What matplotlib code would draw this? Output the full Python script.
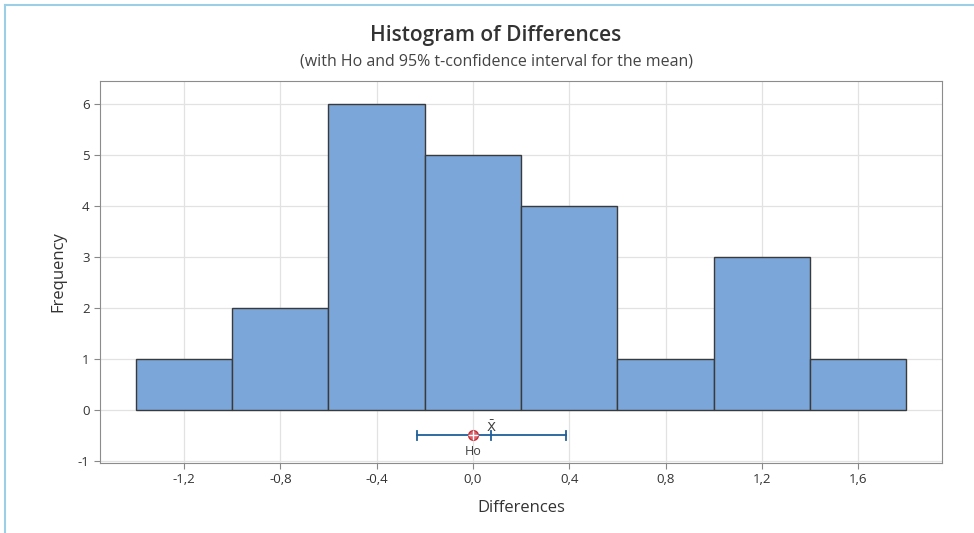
import matplotlib
matplotlib.use('Agg')
import numpy as np
import matplotlib.pyplot as plt
from matplotlib.lines import Line2D

bin_edges = [-1.4, -1.0, -0.6, -0.2, 0.2, 0.6, 1.0, 1.4, 1.8]
counts = [1, 2, 6, 5, 4, 1, 3, 1]
h0 = 0.0
mean_diff = 0.075
ci_low, ci_high = -0.233, 0.386
x_ticks = [-1.2, -0.8, -0.4, 0.0, 0.4, 0.8, 1.2, 1.6]
x_tick_labels = ['-1,2', '-0,8', '-0,4', '0,0', '0,4', '0,8', '1,2', '1,6']
y_ticks = [-1, 0, 1, 2, 3, 4, 5, 6]

plt.rcParams['font.family'] = ['Open Sans', 'DejaVu Sans']
plt.rcParams['axes.unicode_minus'] = False

fig = plt.figure(figsize=(9.74, 5.33), dpi=100)
ax = fig.add_axes([100 / 974, 1 - 463 / 533, 842 / 974, 382 / 533])

widths = np.diff(bin_edges)
ax.bar(bin_edges[:-1], counts, width=widths, align='edge', color='#7BA6D9',
       edgecolor='#3A3A3A', linewidth=1.0, zorder=3)

# confidence interval
ax.plot([ci_low, ci_high], [-0.5, -0.5], color='#1F5F9A', linewidth=1.3, zorder=4)
for xv in (ci_low, ci_high, mean_diff):
    ax.plot([xv, xv], [-0.42, -0.58], color='#1F5F9A', linewidth=1.3, zorder=4)
ax.plot(h0, -0.5, 'o', markersize=7, markerfacecolor='#E0606A', markeredgecolor='#C0303A', zorder=5)
ax.plot(h0, -0.5, '+', markersize=7, color='white', markeredgewidth=1.0, zorder=6)
ax.text(mean_diff, -0.33, r'$\bar{\mathrm{X}}$', ha='center', va='center', fontsize=9.5, color='#404040')
ax.text(h0, -0.82, 'Ho', ha='center', va='center', fontsize=9, color='#404040')

ax.set_xlim(-1.549, 1.948)
ax.set_ylim(-1.04, 6.45)
ax.set_xticks(x_ticks)
ax.set_xticklabels(x_tick_labels)
ax.set_yticks(y_ticks)
ax.tick_params(labelsize=9.5, colors='#333333', length=4, color='#888888')
ax.grid(color='#E2E2E2', linewidth=0.9, zorder=0)
ax.set_axisbelow(True)
for sp in ax.spines.values():
    sp.set_color('#8C8C8C')
ax.set_xlabel('Differences', fontsize=12, color='#333333', labelpad=10)
ax.set_ylabel('Frequency', fontsize=12, color='#333333', labelpad=8)

fig.text(496 / 974, 1 - 35 / 533, 'Histogram of Differences', ha='center', va='center',
         fontsize=15, fontweight='semibold', color='#333333')
fig.text(496 / 974, 1 - 61 / 533, '(with Ho and 95% t-confidence interval for the mean)',
         ha='center', va='center', fontsize=11.5, color='#444444')

# outer frame lines
fig.add_artist(Line2D([5 / 974, 1], [1 - 5 / 533, 1 - 5 / 533], color='#9CCFE6', linewidth=1.5))
fig.add_artist(Line2D([5 / 974, 5 / 974], [0, 1 - 5 / 533], color='#9CCFE6', linewidth=1.5))

fig.savefig('out.png', dpi=100)
